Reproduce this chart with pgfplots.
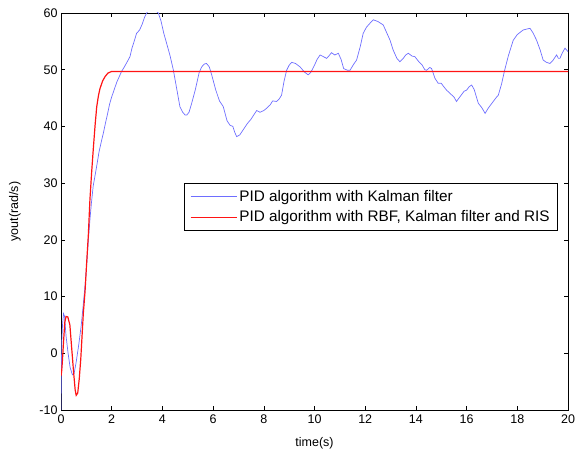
\documentclass[border=0pt]{standalone}
\usepackage{fontspec}
\setmainfont{Liberation Sans}
\usepackage{pgfplots}
\pgfplotsset{compat=1.18}
\definecolor{bl}{RGB}{110,110,255}
\definecolor{rd}{RGB}{255,20,20}
\begin{document}
\begin{tikzpicture}
\begin{axis}[
  scale only axis,
  width=507pt, height=397pt,
  xmin=0, xmax=20, ymin=-10, ymax=60,
  xtick={0,2,...,20}, ytick={-10,0,...,60},
  tick align=inside,
  tick style={black, line width=0.5pt},
  major tick length=4pt,
  axis line style={black, line width=0.7pt},
  /pgf/number format/assume math mode=true,
  ticklabel style={font=\fontsize{12.5}{14}\selectfont},
  xticklabel style={yshift=-1pt},
  xlabel={time(s)}, ylabel={yout(rad/s)},
  label style={font=\fontsize{12.5}{14}\selectfont},
  xlabel style={at={(axis description cs:0.5,-0.085)}, anchor=center},
  ylabel style={at={(axis description cs:-0.0907,0.5)}, anchor=center},
  legend style={at={(0.9803,0.572)}, anchor=north east, draw=black, line width=0.7pt,
    font=\fontsize{15.3}{17}\selectfont, inner xsep=6pt, inner ysep=5pt,
    row sep=4pt},
  legend cell align=left,
  legend image code/.code={\draw[#1] (0pt,0pt) -- (46pt,0pt);},
]
\addplot[bl, line width=0.7pt] coordinates {
(0,-10)(0.01,-5)(0.03,2)(0.06,5)(0.1,7)(0.14,6.5)(0.2,3)(0.28,0)(0.36,-2.5)(0.45,-3.8)
(0.52,-3.5)(0.6,-1.5)(0.7,1.5)(0.8,5)(0.87,8.2)(0.95,12)(1.02,16)(1.08,20)(1.14,23.5)
(1.2,26.5)(1.27,29.5)(1.33,31)(1.4,32.8)(1.5,35.5)(1.6,37.5)(1.67,38.8)(1.75,40.5)
(1.85,42.5)(1.92,44)(2.0,45.2)(2.1,46.5)(2.2,47.8)(2.3,48.8)(2.39,49.7)(2.5,50.5)
(2.6,51.3)(2.72,52.3)(2.8,53.8)(2.9,55.2)(2.98,56.4)(3.1,57)(3.2,58)(3.3,59.3)(3.38,60)
(3.5,60.8)(3.6,61)(3.7,60.5)(3.84,60)(3.95,58.5)(4.05,56.5)(4.17,54.6)(4.3,52.5)
(4.43,50)(4.55,47)(4.69,43.5)(4.8,42.5)(4.9,42)(4.96,42)(5.05,42.5)(5.15,44)(5.3,46.5)
(5.45,49.5)(5.55,50.5)(5.65,51)(5.74,51.1)(5.85,50.5)(5.95,49)(6.1,46.5)(6.25,44.5)
(6.4,43.5)(6.55,41)(6.67,40.2)(6.78,40)(6.85,39)(6.93,38.2)(7.05,38.5)(7.2,39.5)
(7.35,40.5)(7.5,41.3)(7.6,42)(7.72,42.8)(7.85,42.5)(8.0,42.8)(8.11,43.2)(8.25,43.8)
(8.35,44.5)(8.5,44.4)(8.6,44.8)(8.7,45.5)(8.8,48)(8.9,49.9)(9.0,50.8)(9.1,51.3)
(9.25,51.1)(9.43,50.5)(9.6,49.6)(9.75,49.1)(9.85,49.5)(10.0,50.8)(10.1,51.8)(10.22,52.6)
(10.35,52.3)(10.48,52)(10.58,52.5)(10.67,53)(10.8,52.6)(10.94,52.9)(11.05,51.8)
(11.15,50.2)(11.3,49.9)(11.4,49.9)(11.55,51)(11.66,51.7)(11.8,54)(11.92,56.4)(12.05,57.5)
(12.19,58.2)(12.32,58.8)(12.5,58.5)(12.71,57.9)(12.85,56.5)(12.98,55.2)(13.1,53.5)
(13.25,52)(13.37,51.4)(13.5,52)(13.6,52.6)(13.7,52.9)(13.85,52.4)(13.96,52.3)(14.1,51.5)
(14.25,50.8)(14.35,50)(14.42,49.9)(14.55,50.4)(14.62,50.2)(14.75,48.5)(14.88,47.6)
(15.0,47.6)(15.1,47)(15.21,46.4)(15.35,45.8)(15.5,45.2)(15.6,44.4)(15.75,45.3)(15.9,46.2)
(16.0,46.4)(16.1,47)(16.2,47.3)(16.3,46.5)(16.46,44.1)(16.6,43.3)(16.73,42.3)(16.85,43.2)
(17.05,44.4)(17.15,45)(17.25,45.5)(17.38,47.5)(17.5,49.9)(17.65,52.5)(17.84,55.2)
(18.0,56.2)(18.23,57)(18.4,57.2)(18.5,57.3)(18.62,56.5)(18.76,55.2)(18.9,53.5)(19.02,51.7)
(19.15,51.3)(19.29,51.1)(19.4,51.6)(19.55,52.6)(19.62,52)(19.68,52)(19.78,53)(19.88,53.8)
(20,53.2)
};
\addlegendentry{PID algorithm with Kalman filter}
\addplot[rd, line width=1.2pt] coordinates {
(0,-4)(0.03,-3)(0.06,-1)(0.1,2)(0.15,5.5)(0.2,6.5)(0.27,6.4)(0.35,5)(0.42,1)(0.5,-3.5)
(0.56,-6.5)(0.6,-7.4)(0.66,-7)(0.72,-4.5)(0.78,-1)(0.83,3)(0.88,7)(0.95,11)(1.01,15.8)
(1.08,21)(1.14,27)(1.21,32)(1.28,36.4)(1.35,40.5)(1.41,43.5)(1.48,45.5)(1.54,46.7)
(1.64,48)(1.74,48.8)(1.85,49.4)(2.0,49.7)(20,49.7)
};
\addlegendentry{PID algorithm with RBF, Kalman filter and RIS}
\end{axis}
\pgfresetboundingbox
\path[use as bounding box] ([shift={(-61pt,-45pt)}]current axis.south west) rectangle ([shift={(12pt,13pt)}]current axis.north east);
\end{tikzpicture}
\end{document}
